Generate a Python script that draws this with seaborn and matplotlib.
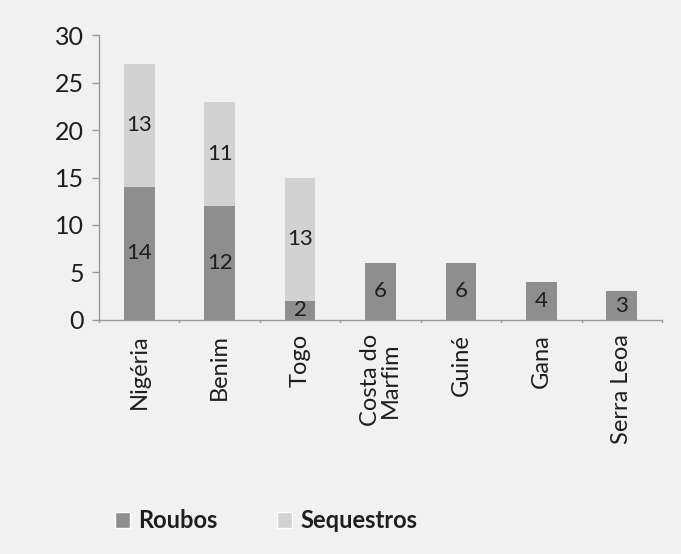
import matplotlib
matplotlib.use("Agg")
import matplotlib.pyplot as plt
import seaborn as sns
import pandas as pd
from matplotlib.patches import Patch

paises = ["Nigéria", "Benim", "Togo", "Costa do\nMarfim", "Guiné", "Gana", "Serra Leoa"]
roubos = [14, 12, 2, 6, 6, 4, 3]
sequestros = [13, 11, 13, 0, 0, 0, 0]
y_ticks = [0, 5, 10, 15, 20, 25, 30]

cor_roubos = "#8e8e8e"
cor_sequestros = "#d2d2d2"
fundo = "#f1f1f1"
texto = "#1e1e1e"

sns.set_theme(style="white")
plt.rcParams["font.family"] = ["Lato", "DejaVu Sans"]

df = pd.DataFrame({"pais": paises, "roubos": roubos, "sequestros": sequestros})

fig = plt.figure(figsize=(6.81, 5.54), dpi=100, facecolor=fundo)
ax = fig.add_axes([0.1454, 0.4224, 0.8266, 0.5144])
ax.set_facecolor(fundo)

sns.barplot(data=df, x="pais", y="roubos", color=cor_roubos, width=0.38,
            saturation=1, linewidth=0, ax=ax)
sns.barplot(data=df, x="pais", y="sequestros", color=cor_sequestros, width=0.38,
            saturation=1, linewidth=0, bottom=df["roubos"], ax=ax)

# value labels centered inside each segment
for i, (r, s) in enumerate(zip(roubos, sequestros)):
    if r:
        ax.text(i, r / 2, str(r), ha="center", va="center", fontsize=16, color=texto)
    if s:
        ax.text(i, r + s / 2, str(s), ha="center", va="center", fontsize=16, color=texto)

ax.set_xlim(-0.5, len(paises) - 0.5)
ax.set_ylim(0, 30)
ax.set_yticks(y_ticks)
ax.set_yticklabels([str(v) for v in y_ticks], fontsize=18, color=texto)
ax.set_xlabel("")
ax.set_ylabel("")

ax.set_xticks(range(len(paises)))
ax.set_xticklabels(paises, rotation=90, fontsize=17, color=texto, va="top",
                   linespacing=0.9)
ax.tick_params(axis="x", length=0, pad=10)
ax.tick_params(axis="y", length=5, width=1, color="#999999", direction="out", pad=6)
ax.yaxis.set_ticks_position("left")

# category separators on the x axis
for b in range(len(paises) + 1):
    ax.plot([b - 0.5, b - 0.5], [0, -0.25], color="#999999", lw=1, clip_on=False)

for side in ["top", "right"]:
    ax.spines[side].set_visible(False)
for side in ["left", "bottom"]:
    ax.spines[side].set_color("#999999")
    ax.spines[side].set_linewidth(1)

handles = [Patch(facecolor=cor_roubos, label="Roubos"),
           Patch(facecolor=cor_sequestros, label="Sequestros")]
fig.legend(handles=handles, loc="center left", bbox_to_anchor=(0.137, 0.06),
           ncol=2, frameon=False, handlelength=0.65, handleheight=0.65,
           handletextpad=0.35, columnspacing=2.5,
           prop={"size": 17, "weight": "bold"}, labelcolor=texto)

fig.savefig("out.png", dpi=100, facecolor=fundo)
